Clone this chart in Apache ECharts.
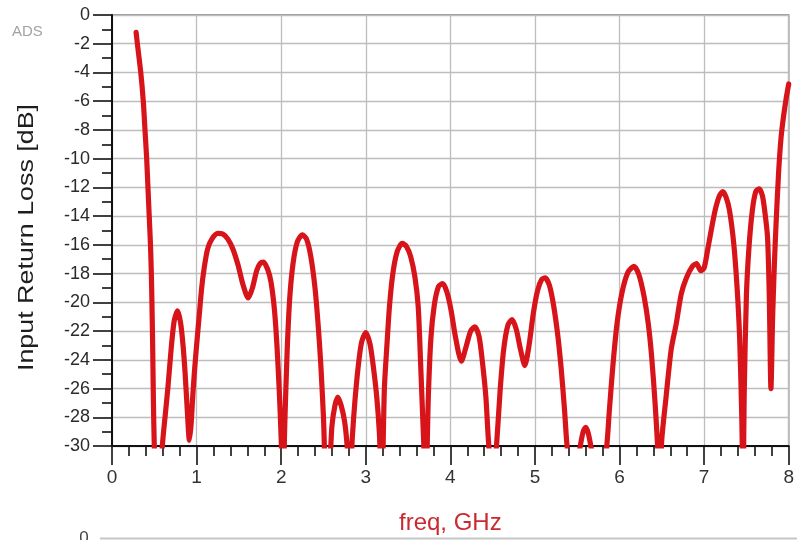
<!DOCTYPE html>
<html>
<head>
<meta charset="utf-8">
<script src="https://cdn.jsdelivr.net/npm/echarts@6/dist/echarts.min.js"></script>
<style>
  html, body { margin: 0; padding: 0; background: #ffffff; }
  #chart { width: 797px; height: 540px; }
</style>
</head>
<body>
<div id="chart"></div>
<script>
// Input return loss (S11) of the amplifier, swept 0.285 – 8 GHz
const freqGHz = [
  0.285, 0.30, 0.34, 0.37, 0.39, 0.41, 0.425, 0.44, 0.455, 0.465, 0.472, 0.478, 0.483, 0.49, 0.50,
  0.52, 0.545, 0.57, 0.595, 0.63, 0.66, 0.70, 0.735, 0.775, 0.81, 0.84, 0.865, 0.89, 0.915,
  0.935, 0.955, 0.975, 1.0, 1.03, 1.06, 1.09, 1.13, 1.18, 1.25, 1.31, 1.37, 1.43, 1.49, 1.55,
  1.61, 1.66, 1.71, 1.75, 1.79, 1.84, 1.88, 1.92, 1.95, 1.98, 2.00, 2.02, 2.045, 2.07, 2.10,
  2.14, 2.19, 2.25, 2.30, 2.35, 2.40, 2.44, 2.47, 2.50, 2.53, 2.575, 2.60, 2.635, 2.67, 2.71,
  2.75, 2.78, 2.81, 2.84, 2.87, 2.91, 2.95, 3.0, 3.05, 3.09, 3.13, 3.16, 3.19, 3.22, 3.25,
  3.28, 3.32, 3.37, 3.43, 3.48, 3.53, 3.58, 3.62, 3.65, 3.68, 3.71, 3.74, 3.77, 3.81, 3.86,
  3.91, 3.96, 4.01, 4.06, 4.13, 4.19, 4.24, 4.29, 4.34, 4.38, 4.42, 4.45, 4.50, 4.55, 4.59,
  4.63, 4.68, 4.73, 4.78, 4.83, 4.88, 4.93, 4.98, 5.03, 5.08, 5.12, 5.17, 5.22, 5.27, 5.31,
  5.35, 5.38, 5.45, 5.53, 5.57, 5.60, 5.63, 5.67, 5.75, 5.84, 5.88, 5.92, 5.97, 6.03, 6.10,
  6.17, 6.23, 6.29, 6.34, 6.38, 6.42, 6.45, 6.47, 6.50, 6.55, 6.61, 6.67, 6.73, 6.79, 6.86,
  6.91, 6.96, 7.0, 7.04, 7.08, 7.13, 7.18, 7.22, 7.26, 7.30, 7.35, 7.39, 7.42, 7.445, 7.46,
  7.475, 7.50, 7.53, 7.57, 7.61, 7.65, 7.69, 7.72, 7.75, 7.77, 7.79, 7.81, 7.83, 7.85, 7.88,
  7.91, 7.94, 7.97, 8.0
];
const returnLossDb = [
  -1.2, -2, -4, -6, -8, -10, -12, -14, -16, -18, -20, -22, -24, -27, -30,
  -33, -31.5, -33, -30, -27.8, -26, -23.2, -21.3, -20.6, -21.4, -23, -25, -27.5, -29.6,
  -28.5, -26.5, -24.8, -23, -21, -19, -17.6, -16.3, -15.6, -15.2, -15.25, -15.6, -16.3, -17.4, -18.8,
  -19.7, -19.0, -17.8, -17.3, -17.2, -17.7, -18.6, -20.5, -23, -26.5, -29.5, -33, -28, -23.5, -19.8,
  -17.3, -15.8, -15.3, -15.6, -16.8, -19, -21.8, -24.5, -28, -32, -31, -28.6, -27.2, -26.6, -27.2,
  -28.3, -30, -33, -29.5, -27, -24.5, -22.8, -22.1, -22.9, -24.5, -26.6, -29, -33, -26, -23,
  -20.3, -18, -16.5, -15.9, -16.1, -16.8, -18.2, -20.3, -24.5, -29, -33, -26.5, -22.5, -20.2, -18.9,
  -18.7, -19.3, -20.6, -22.4, -24.1, -23.0, -22, -21.7, -22.4, -24.2, -26.6, -29.6, -33, -29.6, -26,
  -23.3, -21.6, -21.2, -21.9, -23.3, -24.4, -23, -20.8, -19.2, -18.4, -18.3, -18.8, -20.2, -22.3, -24.6,
  -27.5, -30, -33, -30.2, -29, -28.7, -29.1, -30.3, -33, -30.5, -27.5, -24.5, -21.5, -19.3, -17.9,
  -17.5, -18.1, -19.6, -21.5, -23.8, -27, -30, -33, -29.5, -26.6, -23.3, -21.5, -19.4, -18.3, -17.5,
  -17.3, -17.8, -17.6, -16.4, -15.1, -13.6, -12.6, -12.3, -12.7, -13.6, -15.9, -19, -22.5, -28, -33,
  -26, -19.5, -16.2, -13.6, -12.3, -12.1, -12.6, -13.8, -15.5, -19.5, -26, -21, -17.4, -14.6, -11,
  -8.5, -7.0, -5.8, -4.8
];

// Axis ranges and tick spacing
const freqRange = [0, 8];
const freqStep = 1;
const dbRange = [-30, 0];
const dbStep = 2;

const yTitle = 'Input Return Loss [dB]';
const xTitle = 'freq, GHz';
const toolLabel = 'ADS';

const points = freqGHz.map((f, i) => [f, returnLossDb[i]]);

const chart = echarts.init(document.getElementById('chart'), null, { renderer: 'canvas' });

chart.setOption({
  backgroundColor: '#ffffff',
  animation: false,
  grid: {
    left: 112, right: 6, top: 15, bottom: 92,
    show: true, borderColor: '#7a7a7a', borderWidth: 1.5, backgroundColor: 'transparent'
  },
  xAxis: {
    type: 'value',
    min: freqRange[0], max: freqRange[1], interval: freqStep,
    name: xTitle,
    nameLocation: 'middle',
    nameGap: 65,
    nameTextStyle: { color: '#c92a2f', fontSize: 24, fontFamily: 'Liberation Sans, Arial, sans-serif' },
    axisLine: { show: true, onZero: false, lineStyle: { color: '#111', width: 2 } },
    axisTick: { show: true, length: 19, lineStyle: { color: '#111', width: 1.6 } },
    minorTick: { show: true, splitNumber: 5, length: 10, lineStyle: { color: '#111', width: 1.6 } },
    axisLabel: {
      margin: 22, fontSize: 19, color: '#333',
      fontFamily: 'Liberation Sans, Arial, sans-serif'
    },
    splitLine: { show: true, lineStyle: { color: '#bdbdbd', width: 1.3 } }
  },
  yAxis: {
    type: 'value',
    min: dbRange[0], max: dbRange[1], interval: dbStep,
    axisLine: { show: true, onZero: false, lineStyle: { color: '#111', width: 2 } },
    axisTick: { show: true, length: 19, lineStyle: { color: '#111', width: 1.6 } },
    minorTick: { show: true, splitNumber: 2, length: 10, lineStyle: { color: '#111', width: 1.6 } },
    axisLabel: {
      margin: 22, fontSize: 18, color: '#2b2b2b',
      fontFamily: 'Liberation Sans, Arial, sans-serif'
    },
    splitLine: { show: true, lineStyle: { color: '#bdbdbd', width: 1.3 } }
  },
  series: [{
    type: 'line',
    data: points,
    showSymbol: false,
    smooth: 0.25,
    clip: true,
    lineStyle: { color: '#d8141b', width: 5.2, join: 'round', cap: 'round' }
  }],
  graphic: [
    {
      type: 'text',
      left: 12, top: 24,
      style: { text: toolLabel, fill: '#a3a3a3', font: '15px "Liberation Sans", Arial, sans-serif' }
    },
    {
      type: 'text',
      x: 27, y: 237.5,
      rotation: Math.PI / 2,
      scaleX: 1.22,
      style: {
        text: yTitle, fill: '#1e1e1e', align: 'center', verticalAlign: 'middle',
        font: '22px "Liberation Sans", Arial, sans-serif'
      }
    },
    // start of the next plot panel underneath
    {
      type: 'text',
      x: 84, y: 530,
      style: { text: '0', fill: '#444', align: 'center', verticalAlign: 'top', font: '17px "Liberation Sans", Arial, sans-serif' }
    },
    {
      type: 'line',
      shape: { x1: 100, y1: 538.5, x2: 797, y2: 538.5 },
      style: { stroke: '#c6c6c6', lineWidth: 2 }
    }
  ]
});
</script>
</body>
</html>
